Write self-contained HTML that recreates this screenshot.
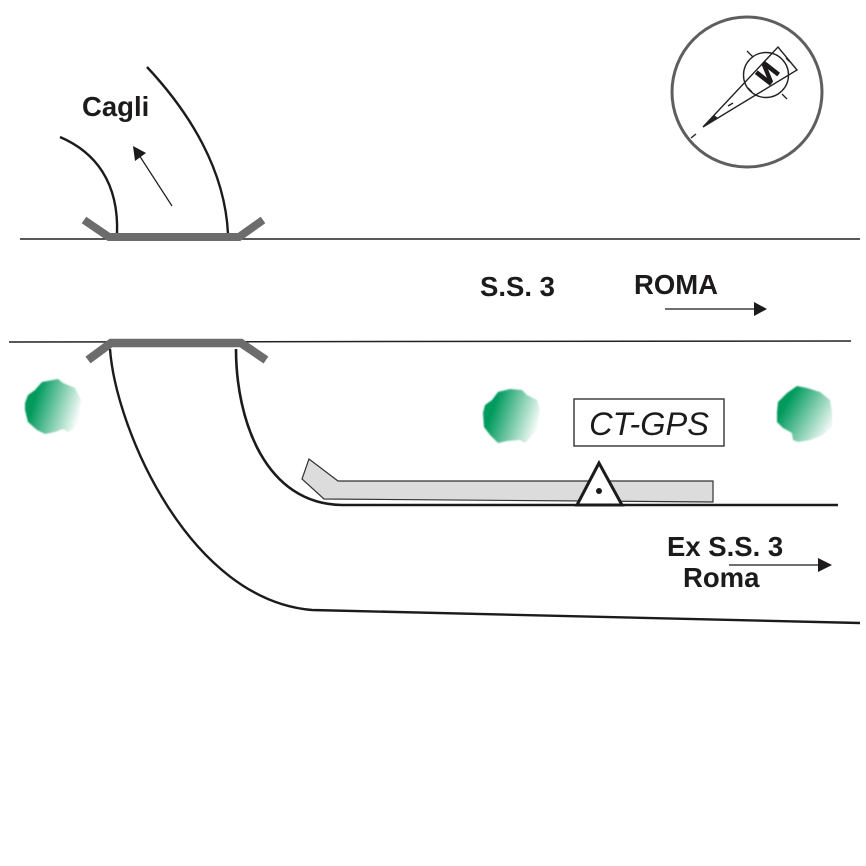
<!DOCTYPE html>
<html>
<head>
<meta charset="utf-8">
<style>
html,body{margin:0;padding:0;background:#fff;width:866px;height:866px;overflow:hidden}
svg{display:block}
text{font-family:"Liberation Sans",sans-serif;fill:#1c1a1a}
.b{font-weight:bold;font-size:27.5px}
</style>
</head>
<body>
<svg width="866" height="866" viewBox="0 0 866 866" xmlns="http://www.w3.org/2000/svg">
<defs>
<linearGradient id="g1" x1="0.05" y1="0.35" x2="1" y2="0.65" gradientUnits="objectBoundingBox">
<stop offset="0.12" stop-color="#009a5c"/>
<stop offset="1" stop-color="#ffffff"/>
</linearGradient>
<linearGradient id="g2" x1="0.08" y1="0.25" x2="1" y2="0.8" gradientUnits="objectBoundingBox">
<stop offset="0.1" stop-color="#009a5c"/>
<stop offset="1" stop-color="#ffffff"/>
</linearGradient>
<filter id="soft" x="-10%" y="-10%" width="120%" height="120%"><feGaussianBlur stdDeviation="0.8"/></filter>
</defs>

<!-- main road lines -->
<line x1="20" y1="239" x2="860" y2="239" stroke="#222" stroke-width="1.5"/>
<line x1="9" y1="342" x2="851" y2="341" stroke="#222" stroke-width="1.5"/>

<!-- Cagli side road -->
<path d="M60 137 C95 152 119 182 117 234" fill="none" stroke="#1c1a1a" stroke-width="2.4"/>
<path d="M147 67 C190 113 225 170 228 234" fill="none" stroke="#1c1a1a" stroke-width="2.4"/>

<!-- upper junction bar -->
<path d="M84 220 L109 237 L239 237 L263 220" fill="none" stroke="#6c6c6c" stroke-width="8"/>

<!-- lower junction bar -->
<path d="M88 360 L111 343 L241 343 L266 360" fill="none" stroke="#6c6c6c" stroke-width="8.5"/>

<!-- lower curves -->
<path d="M110 349 C116 430 190 600 312 610 L860 623" fill="none" stroke="#1c1a1a" stroke-width="2.4"/>
<path d="M236 349 C236 420 265 504 342 505 L838 505" fill="none" stroke="#1c1a1a" stroke-width="2.6"/>

<!-- grey lane -->
<path d="M309 459 L338 481 L713 481 L713 502 L324 499 L302 479 Z" fill="#dcdcdc" stroke="#333" stroke-width="1.2"/>

<!-- triangle -->
<path d="M599 463 L577 505 L622 505 Z" fill="#fff" stroke="#1c1a1a" stroke-width="3"/>
<circle cx="599" cy="491" r="3" fill="#1c1a1a"/>

<!-- CT-GPS box -->
<rect x="574" y="399" width="150" height="47" fill="#fff" stroke="#333" stroke-width="1.4"/>
<text x="649" y="435" text-anchor="middle" font-style="italic" style="font-size:32.5px">CT-GPS</text>

<!-- bushes -->
<polygon filter="url(#soft)" points="25,403 28,395 35,390 42,382 58,379 63,383 75,388 81,400 79,410 80,420 72,430 68,432 63,429 55,432 45,434 37,430 28,422 25,410" fill="url(#g1)"/>
<polygon filter="url(#soft)" points="483,413 485,405 492,400 498,392 510,389 522,390 527,395 537,400 540,410 538,420 537,430 530,438 525,443 520,440 507,441 498,443 490,435 484,427" fill="url(#g1)"/>
<polygon filter="url(#soft)" points="777,412 778,402 787,393 797,386 807,388 820,392 830,400 832,413 832,427 823,435 810,440 798,442 793,440 792,433 783,428 777,422" fill="url(#g2)"/>

<!-- arrows -->
<line x1="172" y1="206" x2="139" y2="155" stroke="#1c1a1a" stroke-width="1.2"/>
<path d="M133 146 L146 153 L135 161 Z" fill="#1c1a1a"/>
<line x1="665" y1="309" x2="756" y2="309" stroke="#1c1a1a" stroke-width="1.3"/>
<path d="M767 309 L754 302 L754 316 Z" fill="#1c1a1a"/>
<line x1="729" y1="565" x2="820" y2="565" stroke="#1c1a1a" stroke-width="1.3"/>
<path d="M832 565 L818 558 L818 572 Z" fill="#1c1a1a"/>

<!-- labels -->
<text class="b" x="82" y="116">Cagli</text>
<text class="b" x="480" y="296">S.S. 3</text>
<text class="b" x="634" y="294">ROMA</text>
<text class="b" x="667" y="556">Ex S.S. 3</text>
<text class="b" x="683" y="587">Roma</text>

<!-- compass -->
<circle cx="747" cy="92" r="75" fill="#fff" stroke="#5e5e5e" stroke-width="3"/>
<circle cx="766" cy="75" r="22.5" fill="none" stroke="#222" stroke-width="1.4"/>
<path d="M703 127 L778 47 L797 70 Z" fill="none" stroke="#222" stroke-width="1.4"/>
<path d="M703 127 L714 115 L718 118 Z" fill="#222"/>
<line x1="691" y1="138" x2="696" y2="134" stroke="#222" stroke-width="1.4"/>
<line x1="728" y1="106" x2="733" y2="103" stroke="#222" stroke-width="1.4"/>
<line x1="747" y1="51" x2="753" y2="57" stroke="#222" stroke-width="1.3"/>
<line x1="782" y1="94" x2="787" y2="99" stroke="#222" stroke-width="1.3"/>
<line x1="748" y1="88" x2="752" y2="92" stroke="#222" stroke-width="1.3"/>
<line x1="786" y1="58" x2="790" y2="62" stroke="#222" stroke-width="1.3"/>
<text x="0" y="0" transform="translate(767 73) rotate(-52) scale(-1 1)" text-anchor="middle" dy="9.5" stroke="#1c1a1a" stroke-width="1.2" style="font-weight:bold;font-size:26px">N</text>
</svg>
</body>
</html>
